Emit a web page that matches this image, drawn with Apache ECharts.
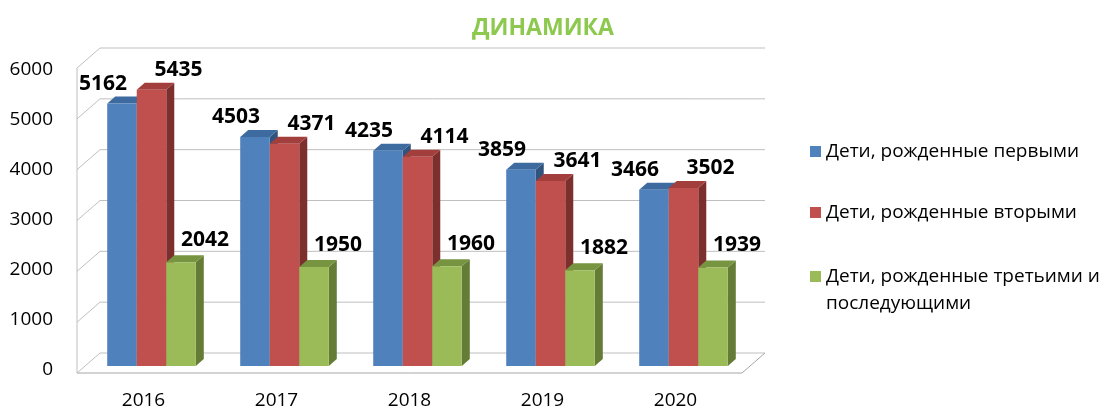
<!DOCTYPE html>
<html>
<head>
<meta charset="utf-8">
<script src="https://cdn.jsdelivr.net/npm/echarts@6/dist/echarts.min.js"></script>
<style>
  html, body { margin: 0; background: #fff; }
  #chart { width: 1120px; height: 410px; }
</style>
</head>
<body>
<div id="chart"></div>
<script>
const years = ['2016', '2017', '2018', '2019', '2020']
const seriesNames = [
  'Дети, рожденные первыми',
  'Дети, рожденные вторыми',
  'Дети, рожденные третьими и\nпоследующими',
]
const firstBorn = [5162, 4503, 4235, 3859, 3466]
const secondBorn = [5435, 4371, 4114, 3641, 3502]
const thirdBorn = [2042, 1950, 1960, 1882, 1939]
const yTicks = [0, 1000, 2000, 3000, 4000, 5000, 6000]

const FONT = '"Open Sans", sans-serif'
// pixel offsets of the front / back planes from the bar plane
const FRONT = [-8, 7]
const BACK = [15, -13]
const DEPTH = [8, -7]
const BAR_RATIO = 0.222
const GRID_LINE = '#BFBFBF'
const FLOOR_LINE = '#A6A6A6'

const faces = [
  { front: '#4F81BD', top: '#3D6B9F', side: '#30547E', shift: [-19, -20] },
  { front: '#C0504D', top: '#A23E3B', side: '#7D2F2D', shift: [27, -20] },
  { front: '#9BBB59', top: '#779440', side: '#647C36', shift: [24, -22] },
]

function seg(x1, y1, x2, y2, color) {
  return {
    type: 'line',
    shape: { x1, y1, x2, y2 },
    style: { stroke: color, lineWidth: 1 },
  }
}

function renderWalls(params, api) {
  const v = api.value(1)
  const band = api.size([1, 0])[0]
  const p = api.coord([0, v])
  const y0 = api.coord([0, 0])[1]
  const left = p[0] - band / 2
  const right = left + band * years.length
  const y = p[1]
  const kids = [
    seg(left + FRONT[0], y + FRONT[1], left + BACK[0], y + BACK[1], GRID_LINE),
    seg(left + BACK[0], y + BACK[1], right + BACK[0], y + BACK[1], GRID_LINE),
  ]
  if (v === 0) {
    kids.push(seg(left + FRONT[0], y + FRONT[1], right + FRONT[0], y + FRONT[1], FLOOR_LINE))
    kids.push(seg(right + FRONT[0], y + FRONT[1], right + BACK[0], y + BACK[1], FLOOR_LINE))
  }
  if (v === yTicks[yTicks.length - 1]) {
    kids.push(seg(left + FRONT[0], y0 + FRONT[1], left + FRONT[0], y + FRONT[1], GRID_LINE))
  }
  return { type: 'group', children: kids }
}

function barRenderer(k) {
  const f = faces[k]
  return function (params, api) {
    const i = api.value(0)
    const v = api.value(1)
    const top = api.coord([i, v])
    const base = api.coord([i, 0])
    const w = api.size([1, 0])[0] * BAR_RATIO
    const x = top[0] + (k - 1) * w - w / 2
    const yt = top[1]
    const yb = base[1]
    const dx = DEPTH[0]
    const dy = DEPTH[1]
    return {
      type: 'group',
      children: [
        {
          type: 'polygon',
          shape: { points: [[x + w, yt], [x + w + dx, yt + dy], [x + w + dx, yb + dy], [x + w, yb]] },
          style: { fill: f.side },
        },
        {
          type: 'polygon',
          shape: { points: [[x, yt], [x + w, yt], [x + w + dx, yt + dy], [x + dx, yt + dy]] },
          style: { fill: f.top },
        },
        {
          type: 'rect',
          shape: { x, y: yt, width: w, height: yb - yt },
          style: { fill: f.front },
        },
        {
          type: 'text',
          x: x + w / 2 + f.shift[0],
          y: yt + f.shift[1],
          style: {
            text: String(v),
            fill: '#000',
            fontSize: 21,
            fontWeight: 'bold',
            fontFamily: FONT,
            align: 'center',
            verticalAlign: 'middle',
          },
        },
      ],
    }
  }
}

const chart = echarts.init(document.getElementById('chart'))

const legendText = { fontSize: 19, lineHeight: 27, fontFamily: FONT, color: '#000' }

chart.setOption({
  animation: false,
  title: {
    text: 'ДИНАМИКА',
    left: 467,
    top: 12,
    textStyle: { color: '#8DC94E', fontSize: 23, fontWeight: 'bold', fontFamily: FONT },
  },
  legend: [
    {
      orient: 'vertical',
      left: 805,
      top: 133,
      itemWidth: 11,
      itemHeight: 11,
      itemGap: 34,
      icon: 'rect',
      data: [seriesNames[0], seriesNames[1]],
      textStyle: legendText,
    },
    {
      orient: 'vertical',
      left: 805,
      top: 231,
      itemWidth: 11,
      itemHeight: 11,
      icon: 'rect',
      data: [seriesNames[2]],
      // leading blank line so the marker sits beside the first text line
      formatter: (name) => '\n' + name,
      textStyle: legendText,
    },
  ],
  grid: [
    { left: 85, top: 61, width: 665, height: 305 },
    { left: 77, top: 70, width: 665, height: 305 },
  ],
  xAxis: [
    { type: 'category', gridIndex: 0, data: years, show: false },
    {
      type: 'category',
      gridIndex: 1,
      data: years,
      axisLine: { show: false },
      axisTick: { show: false },
      axisLabel: { fontSize: 19, fontFamily: FONT, color: '#000', margin: 21 },
    },
  ],
  yAxis: [
    { type: 'value', gridIndex: 0, min: 0, max: 6000, interval: 1000, show: false },
    {
      type: 'value',
      gridIndex: 1,
      min: 0,
      max: 6000,
      interval: 1000,
      axisLine: { show: false },
      axisTick: { show: false },
      splitLine: { show: false },
      axisLabel: {
        fontSize: 19,
        fontFamily: FONT,
        color: '#000',
        margin: 24,
        formatter: (v) => String(v),
      },
    },
  ],
  series: [
    {
      type: 'custom',
      name: 'walls',
      xAxisIndex: 0,
      yAxisIndex: 0,
      z: 1,
      silent: true,
      renderItem: renderWalls,
      data: yTicks.map((v) => [0, v]),
    },
    ...[firstBorn, secondBorn, thirdBorn].map((vals, k) => ({
      type: 'custom',
      name: seriesNames[k],
      xAxisIndex: 0,
      yAxisIndex: 0,
      z: 2,
      itemStyle: { color: faces[k].front },
      renderItem: barRenderer(k),
      data: vals.map((v, i) => [i, v]),
    })),
  ],
})
</script>
</body>
</html>
